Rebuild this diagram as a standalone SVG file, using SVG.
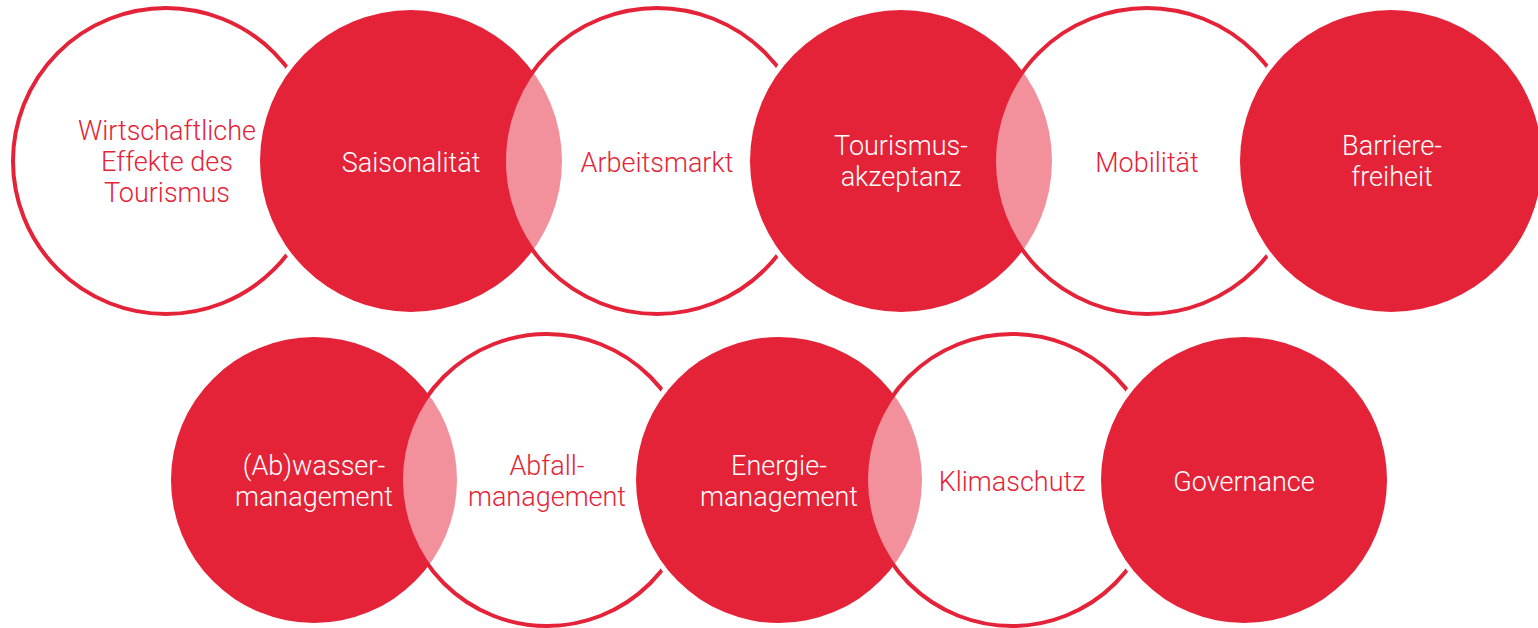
<svg xmlns="http://www.w3.org/2000/svg" width="1538" height="628" viewBox="0 0 1538 628">
<style>
.ring{fill:#fff;fill-opacity:0.5;stroke:#E52338;stroke-width:4}
.halo{fill:#fff}
.disc{fill:#E52338}
text{font-family:Roboto,"Liberation Sans",sans-serif;font-weight:300;font-size:27px;text-anchor:middle}
.tr{fill:#E52338}
.tw{fill:#fff}
</style>
<rect width="1538" height="628" fill="#fff"/>
<g id="n1"><circle class="ring" cx="166" cy="161" r="153"/><text class="tr" x="167"><tspan x="167" y="140">Wirtschaftliche</tspan><tspan x="167" y="171">Effekte des</tspan><tspan x="167" y="202">Tourismus</tspan></text></g>
<g id="n2"><circle class="halo" cx="411" cy="161" r="156"/><circle class="disc" cx="411" cy="161" r="151"/><text class="tw" x="411" y="172">Saisonalität</text></g>
<g id="n3"><circle class="ring" cx="657" cy="161" r="153"/><text class="tr" x="657" y="172">Arbeitsmarkt</text></g>
<g id="n4"><circle class="halo" cx="901" cy="161" r="156"/><circle class="disc" cx="901" cy="161" r="151"/><text class="tw"><tspan x="901" y="155">Tourismus-</tspan><tspan x="901" y="186">akzeptanz</tspan></text></g>
<g id="n5"><circle class="ring" cx="1147" cy="161" r="153"/><text class="tr" x="1147" y="172">Mobilität</text></g>
<g id="n6"><circle class="halo" cx="1391" cy="161" r="156"/><circle class="disc" cx="1391" cy="161" r="151"/><text class="tw"><tspan x="1392" y="155">Barriere-</tspan><tspan x="1392" y="186">freiheit</tspan></text></g>
<g id="n7"><circle class="disc" cx="314" cy="480" r="143"/><text class="tw"><tspan x="314" y="475">(Ab)wasser-</tspan><tspan x="314" y="506">management</tspan></text></g>
<g id="n8"><circle class="ring" cx="547" cy="480" r="146"/><text class="tr"><tspan x="547" y="475">Abfall-</tspan><tspan x="547" y="506">management</tspan></text></g>
<g id="n9"><circle class="halo" cx="779" cy="480" r="148"/><circle class="disc" cx="779" cy="480" r="143"/><text class="tw"><tspan x="779" y="475">Energie-</tspan><tspan x="779" y="506">management</tspan></text></g>
<g id="n10"><circle class="ring" cx="1012" cy="480" r="146"/><text class="tr" x="1012" y="491">Klimaschutz</text></g>
<g id="n11"><circle class="halo" cx="1244" cy="480" r="148"/><circle class="disc" cx="1244" cy="480" r="143"/><text class="tw" x="1244" y="491">Governance</text></g>
<g id="connectors"/>
</svg>
